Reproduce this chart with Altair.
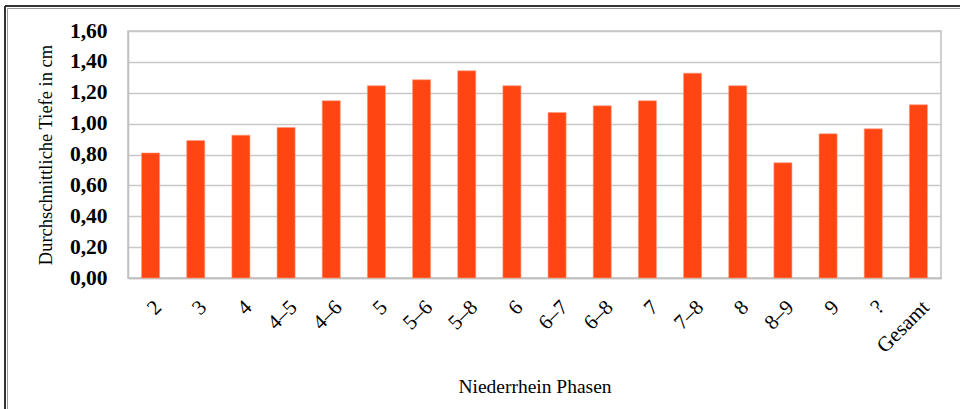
import altair as alt
import pandas as pd

phasen = ["2", "3", "4", "4–5", "4–6", "5", "5–6", "5–8", "6", "6–7", "6–8",
          "7", "7–8", "8", "8–9", "9", "?", "Gesamt"]
tiefe = [0.81, 0.89, 0.925, 0.975, 1.148, 1.245, 1.284, 1.342, 1.245, 1.072,
         1.115, 1.148, 1.327, 1.245, 0.746, 0.934, 0.966, 1.122]
y_ticks = [0, 0.2, 0.4, 0.6, 0.8, 1.0, 1.2, 1.4, 1.6]

df = pd.DataFrame({"Phase": phasen, "Tiefe": tiefe})

W, H = 813, 247
FONT = "Liberation Serif"

bars = alt.Chart(df).mark_bar(color="#FF4511", stroke="#FF9A7A", strokeWidth=0.6).encode(
    x=alt.X("Phase:N", sort=None,
            scale=alt.Scale(paddingInner=0.6, paddingOuter=0.3),
            axis=alt.Axis(title="Niederrhein Phasen", labelAngle=-45, labelFont=FONT,
                          labelFontSize=21, labelColor="#000000", labelPadding=18,
                          ticks=False, domainColor="#c0c0c0", domainWidth=1.5,
                          titleFont=FONT, titleFontSize=19.5, titleFontWeight="normal",
                          titleColor="#000000", titleX=W / 2, titleY=108,
                          titleBaseline="middle", titleAlign="center")),
    y=alt.Y("Tiefe:Q",
            scale=alt.Scale(domain=[0, 1.6], nice=False, zero=True),
            axis=alt.Axis(title="Durchschnittliche Tiefe in cm", values=y_ticks,
                          labelExpr="replace(format(datum.value, '.2f'), '.', ',')",
                          labelFont=FONT, labelFontSize=21.5, labelFontWeight="bold",
                          labelColor="#000000", labelPadding=21, ticks=False,
                          domainColor="#c0c0c0", domainWidth=1.5,
                          grid=True, gridColor="#c8c8c8", gridWidth=1.5,
                          titleFont=FONT, titleFontSize=18.5, titleFontWeight="normal",
                          titleColor="#000000", titleX=-83, titleY=H / 2,
                          titleAlign="center", titleBaseline="middle", titleAngle=-90)),
)

frame_data = alt.Data(values=[{"a": 1}])
left_dark = alt.Chart(frame_data).mark_rule(color="#333333", strokeWidth=2).encode(
    x=alt.value(-123), y=alt.value(-25), y2=alt.value(378))
left_light = alt.Chart(frame_data).mark_rule(color="#9a9a9a", strokeWidth=1).encode(
    x=alt.value(-120.5), y=alt.value(-22.5), y2=alt.value(378))
top_dark = alt.Chart(frame_data).mark_rule(color="#333333", strokeWidth=2).encode(
    x=alt.value(-123), x2=alt.value(832), y=alt.value(-25))
top_light = alt.Chart(frame_data).mark_rule(color="#9a9a9a", strokeWidth=1).encode(
    x=alt.value(-120.5), x2=alt.value(832), y=alt.value(-22.5))

chart = alt.layer(bars, left_dark, left_light, top_dark, top_light).properties(
    width=W, height=H,
    autosize=alt.AutoSizeParams(type="none"),
    padding={"left": 128, "top": 31, "right": 19, "bottom": 131},
    background="#ffffff",
).configure_view(stroke="#c0c0c0", strokeWidth=1.5)

chart.save("out.html", embed_options={"renderer": "svg", "actions": False})
